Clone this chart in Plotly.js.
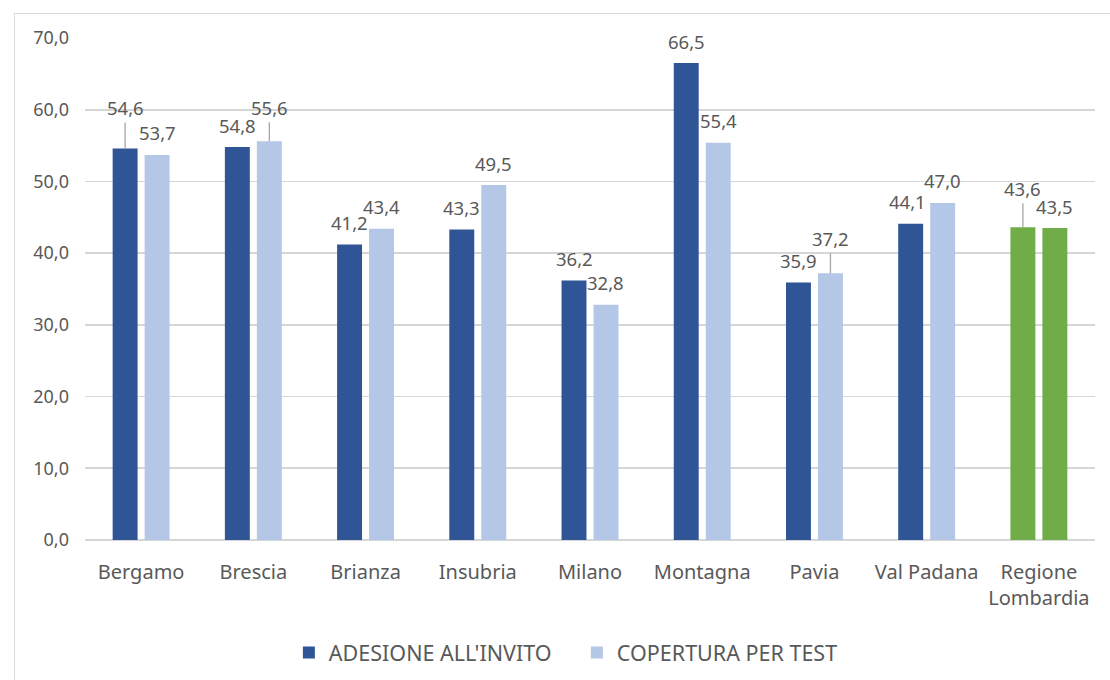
<!DOCTYPE html>
<html>
<head>
<meta charset="utf-8">
<script src="https://cdn.plot.ly/plotly-3.0.1.min.js"></script>
<style>
  html, body { margin: 0; padding: 0; background: #ffffff; overflow: hidden; }
  #chart { position: absolute; left: 0; top: 0; width: 1110px; height: 680px; }
  #frame { position: absolute; left: 14px; top: 13px; width: 1200px; height: 800px;
           border: 1.5px solid #d9d9d9; pointer-events: none; }
</style>
</head>
<body>
<div id="chart"></div>
<div id="frame"></div>
<script>
// Screening indicators by area (%)
const categories = ['Bergamo', 'Brescia', 'Brianza', 'Insubria', 'Milano', 'Montagna', 'Pavia', 'Val Padana', 'Regione<br>Lombardia'];
const adesione = [54.6, 54.8, 41.2, 43.3, 36.2, 66.5, 35.9, 44.1, 43.6];
const copertura = [53.7, 55.6, 43.4, 49.5, 32.8, 55.4, 37.2, 47.0, 43.5];
const seriesNames = ["ADESIONE ALL'INVITO", 'COPERTURA PER TEST'];
const yTicks = [0, 10, 20, 30, 40, 50, 60, 70];

// Colours
const DARK = '#2F5597';
const LIGHT = '#B4C7E7';
const GREEN = '#70AD47';
const TEXT = '#595959';
const GRID = '#d6d6d6';
const FONT = 'Noto Sans, sans-serif';

// Bar geometry
const BARGAP = 0.43;
const BARGROUPGAP = 0.22;
const half = (1 - BARGAP) / 4;

// Labels lifted higher and joined to their bar by a leader line (series, index, px above bar top)
const leaders = [
  { s: 0, i: 0, up: 41 },
  { s: 1, i: 1, up: 34 },
  { s: 1, i: 6, up: 35 },
  { s: 0, i: 8, up: 39 }
];
const labelXShift = { '0-7': -3 };

const lastIdx = categories.length - 1;
const colorsFor = (base) => categories.map((c, i) => (i === lastIdx ? GREEN : base));
const fmt = (v) => v.toFixed(1).replace('.', ',');

const traces = [
  {
    type: 'bar', name: seriesNames[0], x: categories, y: adesione,
    marker: { color: colorsFor(DARK), line: { width: 0 } }, hoverinfo: 'skip'
  },
  {
    type: 'bar', name: seriesNames[1], x: categories, y: copertura,
    marker: { color: colorsFor(LIGHT), line: { width: 0 } }, hoverinfo: 'skip'
  }
];

const annotations = [];
[adesione, copertura].forEach((vals, s) => {
  vals.forEach((v, i) => {
    const xPos = i + (s === 0 ? -half : half);
    const lead = leaders.find(l => l.s === s && l.i === i);
    const base = {
      x: xPos, y: v, xref: 'x', yref: 'y', text: fmt(v),
      font: { family: FONT, size: 18.5, color: TEXT },
      xshift: labelXShift[s + '-' + i] || 0
    };
    if (lead) {
      annotations.push(Object.assign(base, {
        showarrow: true, arrowhead: 0, arrowwidth: 1.3, arrowcolor: '#a6a6a6',
        ax: 0, ay: -lead.up, standoff: 0, borderpad: 2
      }));
    } else {
      annotations.push(Object.assign(base, {
        showarrow: false, xanchor: 'center', yanchor: 'middle', yshift: 22
      }));
    }
  });
});

const layout = {
  width: 1110, height: 680,
  margin: { l: 85, r: 15, t: 38, b: 140, autoexpand: false },
  paper_bgcolor: 'rgba(0,0,0,0)',
  plot_bgcolor: '#ffffff',
  separators: ',.',
  barmode: 'group',
  bargap: BARGAP,
  bargroupgap: BARGROUPGAP,
  font: { family: FONT, color: TEXT },
  xaxis: {
    type: 'category', automargin: false,
    showgrid: false, showline: false, zeroline: false, ticks: '',
    tickfont: { family: FONT, size: 20, color: TEXT },
    ticklabelstandoff: 18
  },
  yaxis: {
    range: [0, 70], tickvals: yTicks, tickformat: '.1f', automargin: false,
    showgrid: true, gridcolor: GRID, gridwidth: 1.7,
    zeroline: true, zerolinecolor: GRID, zerolinewidth: 1.7,
    showline: false, ticks: '',
    tickfont: { family: FONT, size: 18, color: TEXT },
    ticklabelstandoff: 15
  },
  showlegend: true,
  legend: {
    orientation: 'h', x: 0.487, xanchor: 'center', y: -0.224, yanchor: 'middle',
    entrywidth: 243,
    font: { family: FONT, size: 21.5, color: TEXT },
    bgcolor: 'rgba(0,0,0,0)'
  },
  annotations: annotations
};

Plotly.newPlot('chart', traces, layout, { staticPlot: true, displayModeBar: false });
</script>
</body>
</html>
